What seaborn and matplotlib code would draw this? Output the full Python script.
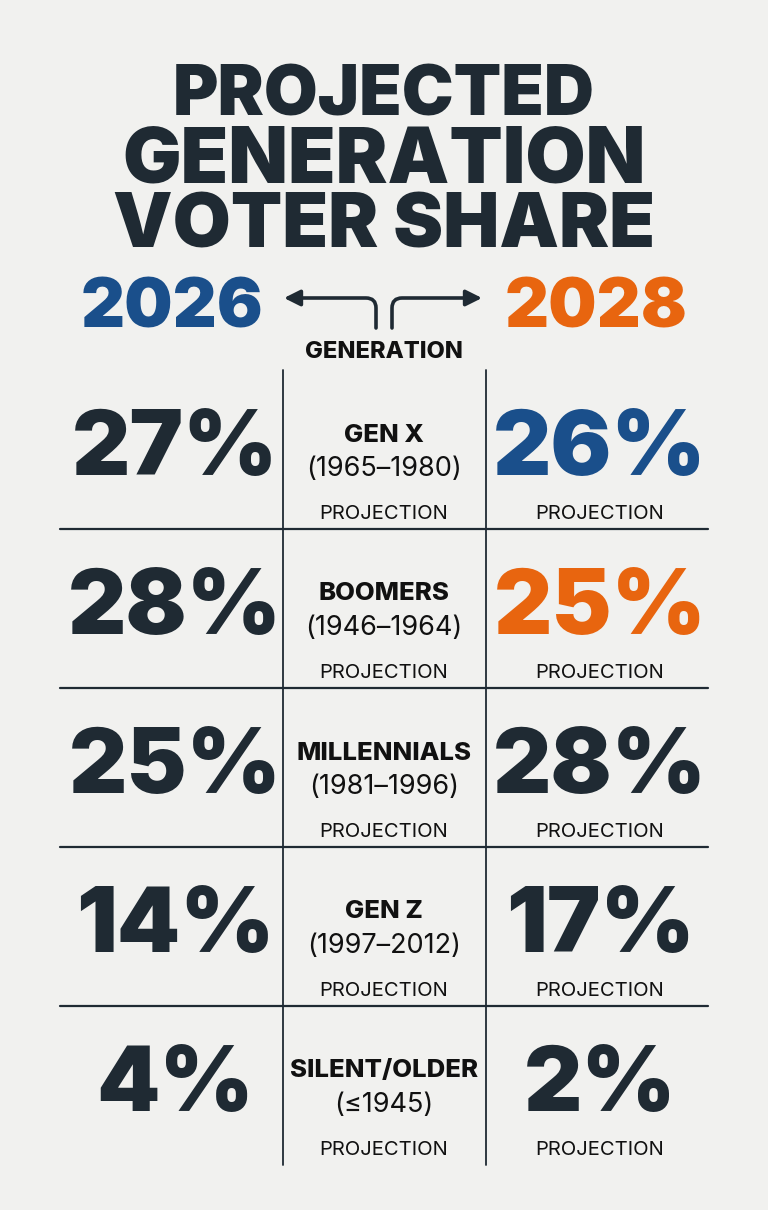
import matplotlib
matplotlib.use("Agg")
import matplotlib.pyplot as plt
import seaborn as sns
from matplotlib.path import Path
from matplotlib.patches import FancyArrowPatch

# chart data
title_lines = ["PROJECTED", "GENERATION", "VOTER SHARE"]
year_left = "2026"
year_right = "2028"
generations = ["GEN X", "BOOMERS", "MILLENNIALS", "GEN Z", "SILENT/OLDER"]
birth_years = ["(1965–1980)", "(1946–1964)", "(1981–1996)", "(1997–2012)", "(≤1945)"]
share_2026 = [27, 28, 25, 14, 4]
share_2028 = [26, 25, 28, 17, 2]
color_2028 = ["blue", "orange", "dark", "dark", "dark"]

BG = "#f1f1ef"
DARK = "#1f2a33"
BLUE = "#1a4f8b"
ORANGE = "#e8650f"
palette = {"dark": DARK, "blue": BLUE, "orange": ORANGE}

sns.set_theme(style="white")
plt.rcParams["font.family"] = ["Inter", "DejaVu Sans"]

fig = plt.figure(figsize=(7.68, 12.10), dpi=100, facecolor=BG)
ax = fig.add_axes([0, 0, 1, 1])
ax.set_facecolor(BG)
ax.set_xlim(0, 768)
ax.set_ylim(1210, 0)
ax.axis("off")

# title (lines are slightly different sizes in the original)
title_y = [97, 162, 228]
title_size = [50, 56, 54]
for line, y, s in zip(title_lines, title_y, title_size):
    ax.text(384, y, line, ha="center", va="center",
            fontsize=s, fontweight=900, color=DARK)

ax.text(172, 310, year_left, ha="center", va="center",
        fontsize=49, fontweight=900, color=BLUE)
ax.text(596, 310, year_right, ha="center", va="center",
        fontsize=49, fontweight=900, color=ORANGE)

# arrows
left_path = Path([(376, 328), (376, 308), (376, 298), (366, 298), (284, 298)],
                 [Path.MOVETO, Path.LINETO, Path.CURVE3, Path.CURVE3, Path.LINETO])
right_path = Path([(392, 328), (392, 308), (392, 298), (402, 298), (482, 298)],
                  [Path.MOVETO, Path.LINETO, Path.CURVE3, Path.CURVE3, Path.LINETO])
for p in (left_path, right_path):
    ax.add_patch(FancyArrowPatch(path=p, arrowstyle="-|>", mutation_scale=24,
                                 color=DARK, lw=2.6, shrinkA=0, shrinkB=0))

ax.text(384, 352, "GENERATION", ha="center", va="center",
        fontsize=17, fontweight=800, color="#111111")

# table grid
top, row_h = 370, 159
n = len(generations)
for x in (283, 486):
    ax.plot([x, x], [top, top + row_h * n], color=DARK, lw=1.3)
for i in range(1, n):
    y = top + row_h * i
    ax.plot([60, 708], [y, y], color=DARK, lw=1.6)

for i in range(n):
    y0 = top + row_h * i
    ax.text(175, y0 + 81, f"{share_2026[i]}%", ha="center", va="center",
            fontsize=65, fontweight=900, color=DARK)
    ax.text(600, y0 + 81, f"{share_2028[i]}%", ha="center", va="center",
            fontsize=65, fontweight=900, color=palette[color_2028[i]])
    ax.text(384, y0 + 65, generations[i], ha="center", va="center",
            fontsize=18.5, fontweight=800, color="#111111")
    ax.text(384, y0 + 99, birth_years[i], ha="center", va="center",
            fontsize=19.5, color="#111111")
    ax.text(384, y0 + 144, "PROJECTION", ha="center", va="center",
            fontsize=14.5, color="#111111")
    ax.text(600, y0 + 144, "PROJECTION", ha="center", va="center",
            fontsize=14.5, color="#111111")

fig.savefig("out.png", dpi=100, facecolor=BG)
